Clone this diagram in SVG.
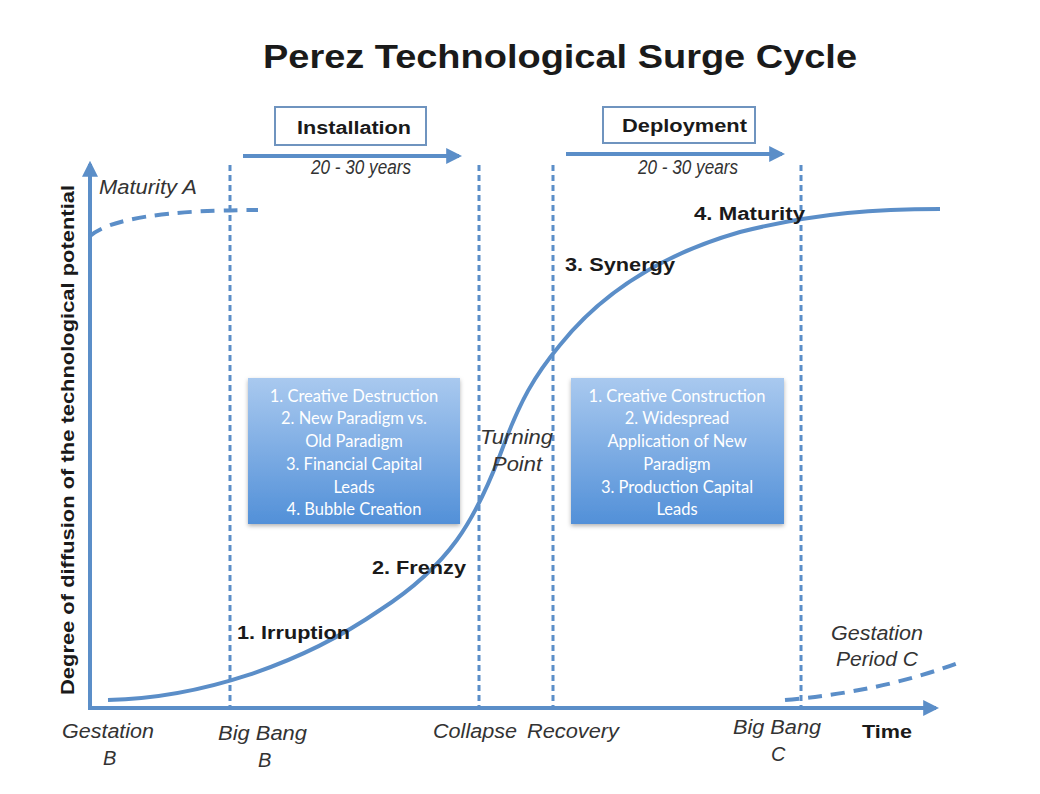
<svg xmlns="http://www.w3.org/2000/svg" width="1040" height="794" viewBox="0 0 1040 794">
<style>
.ax{stroke:#5b8ec8;stroke-width:4;fill:none}
.vd{stroke:#5b8ec8;stroke-width:3;stroke-dasharray:6,4;fill:none}
.dc{stroke:#5b8ec8;stroke-width:4;stroke-dasharray:14,9;fill:none}
.t{font-family:"Liberation Sans",Arial,sans-serif;fill:#1a1a1a}
.it{font-family:"Liberation Sans",Arial,sans-serif;font-style:italic;fill:#333;font-size:20px}
.b{font-family:"Liberation Sans",Arial,sans-serif;font-weight:bold;fill:#1a1a1a;font-size:18px}
.bx{font-family:Lato,"Open Sans",sans-serif;fill:#fff;font-size:16.5px;text-anchor:middle}
.hdr{fill:#fff;stroke:#6f94bf;stroke-width:2}
</style>
<defs>
<marker id="ah" viewBox="0 0 10 10" refX="8" refY="5" markerWidth="4" markerHeight="4" orient="auto"><path d="M0,0 L10,5 L0,10 z" fill="#5b8ec8"/></marker>
<linearGradient id="g" x1="0" y1="0" x2="0" y2="1"><stop offset="0" stop-color="#a9c9ef"/><stop offset="1" stop-color="#5290d8"/></linearGradient>
<filter id="sh" x="-10%" y="-10%" width="120%" height="120%"><feDropShadow dx="0" dy="2" stdDeviation="2" flood-color="#000" flood-opacity="0.3"/></filter>
</defs>
<rect width="1040" height="794" fill="#fff"/>
<text class="t" x="263" y="68" font-size="34" font-weight="bold" textLength="594" lengthAdjust="spacingAndGlyphs">Perez Technological Surge Cycle</text>

<g id="connectors">
<line class="vd" x1="230" y1="165" x2="230" y2="708"/>
<line class="vd" x1="479" y1="165" x2="479" y2="708"/>
<line class="vd" x1="553" y1="165" x2="553" y2="708"/>
<line class="vd" x1="801" y1="165" x2="801" y2="708"/>
<line class="ax" x1="90" y1="708" x2="90" y2="164" marker-end="url(#ah)"/>
<line class="ax" x1="88" y1="708" x2="936" y2="708" marker-end="url(#ah)"/>
<line class="ax" x1="243" y1="156" x2="459" y2="156" marker-end="url(#ah)"/>
<line class="ax" x1="566" y1="154" x2="782" y2="154" marker-end="url(#ah)"/>
<path class="dc" d="M90,236 Q120,210 258,210"/>
<path class="dc" d="M785,700 Q880,692 958,663"/>
<path class="ax" d="M108,700 C200,698 300,665 380,610 C450,565 475,520 500,455 C520,400 535,375 560,345 C600,295 660,255 740,232 C820,212 880,209 940,209"/>
</g>

<g id="installation">
<rect class="hdr" x="275" y="107" width="151" height="38"/>
<text class="b" x="297" y="134" font-size="19" textLength="114" lengthAdjust="spacingAndGlyphs">Installation</text>
<text class="it" x="311" y="174" font-size="13" fill="#444" textLength="100" lengthAdjust="spacingAndGlyphs">20 - 30 years</text>
</g>
<g id="deployment">
<rect class="hdr" x="603" y="107" width="152" height="36"/>
<text class="b" x="622" y="132" font-size="19" textLength="125" lengthAdjust="spacingAndGlyphs">Deployment</text>
<text class="it" x="638" y="174" font-size="13" fill="#444" textLength="100" lengthAdjust="spacingAndGlyphs">20 - 30 years</text>
</g>

<g id="box-installation">
<rect x="248" y="378" width="212" height="146" fill="url(#g)" filter="url(#sh)"/>
<text class="bx" x="354" y="402">1. Creative Destruction</text>
<text class="bx" x="354" y="424">2. New Paradigm vs.</text>
<text class="bx" x="354" y="447">Old Paradigm</text>
<text class="bx" x="354" y="470">3. Financial Capital</text>
<text class="bx" x="354" y="493">Leads</text>
<text class="bx" x="354" y="515">4. Bubble Creation</text>
</g>
<g id="box-deployment">
<rect x="571" y="378" width="213" height="146" fill="url(#g)" filter="url(#sh)"/>
<text class="bx" x="677" y="402">1. Creative Construction</text>
<text class="bx" x="677" y="424">2. Widespread</text>
<text class="bx" x="677" y="447">Application of New</text>
<text class="bx" x="677" y="470">Paradigm</text>
<text class="bx" x="677" y="493">3. Production Capital</text>
<text class="bx" x="677" y="515">Leads</text>
</g>

<g id="phases">
<text class="b" x="694" y="220" textLength="111" lengthAdjust="spacingAndGlyphs">4. Maturity</text>
<text class="b" x="565" y="271" textLength="110" lengthAdjust="spacingAndGlyphs">3. Synergy</text>
<text class="b" x="372" y="574" textLength="94" lengthAdjust="spacingAndGlyphs">2. Frenzy</text>
<text class="b" x="237" y="639" textLength="113" lengthAdjust="spacingAndGlyphs">1. Irruption</text>
<text class="it" x="480" y="444" textLength="73" lengthAdjust="spacingAndGlyphs">Turning</text>
<text class="it" x="492" y="471" textLength="50" lengthAdjust="spacingAndGlyphs">Point</text>
<text class="it" x="99" y="194" font-size="18" fill="#444" textLength="98" lengthAdjust="spacingAndGlyphs">Maturity A</text>
</g>

<g id="labels">
<text class="b" transform="translate(74,440) rotate(-90)" text-anchor="middle" textLength="510" lengthAdjust="spacingAndGlyphs">Degree of diffusion of the technological potential</text>
<text class="it" x="62" y="738" textLength="92" lengthAdjust="spacingAndGlyphs">Gestation</text>
<text class="it" x="103" y="765">B</text>
<text class="it" x="218" y="740" textLength="89" lengthAdjust="spacingAndGlyphs">Big Bang</text>
<text class="it" x="258" y="767">B</text>
<text class="it" x="433" y="738" textLength="84" lengthAdjust="spacingAndGlyphs">Collapse</text>
<text class="it" x="527" y="738" textLength="92" lengthAdjust="spacingAndGlyphs">Recovery</text>
<text class="it" x="733" y="734" textLength="88" lengthAdjust="spacingAndGlyphs">Big Bang</text>
<text class="it" x="771" y="761">C</text>
<text class="b" x="862" y="738" font-size="19" textLength="50" lengthAdjust="spacingAndGlyphs">Time</text>
<text class="it" x="831" y="640" textLength="92" lengthAdjust="spacingAndGlyphs">Gestation</text>
<text class="it" x="836" y="666" textLength="82" lengthAdjust="spacingAndGlyphs">Period C</text>
</g>
</svg>
